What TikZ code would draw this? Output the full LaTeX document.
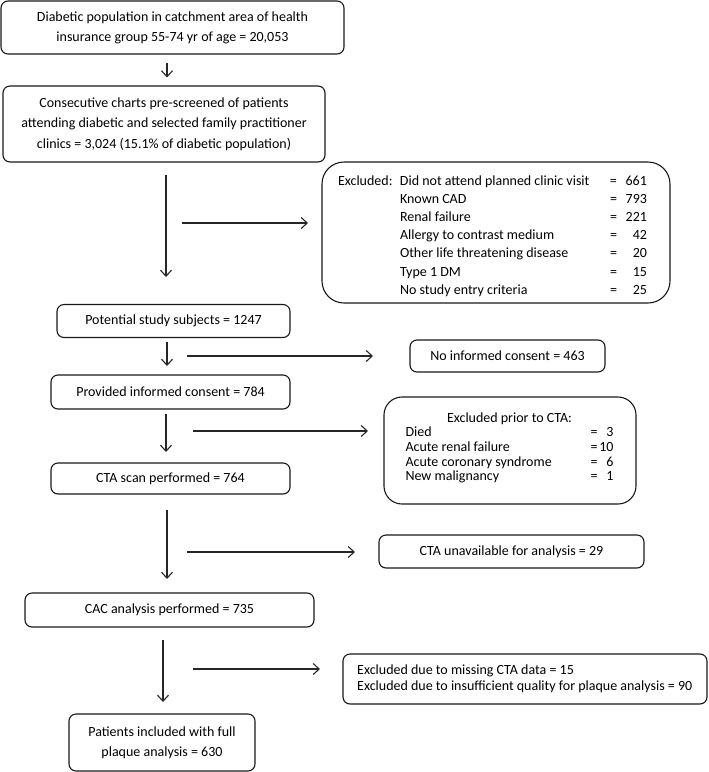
\documentclass[tikz,border=0pt]{standalone}
\usepackage{fontspec}
\setmainfont{Carlito}
\usetikzlibrary{arrows.meta}
\begin{document}
\begin{tikzpicture}[x=1pt,y=-1pt,
  box/.style={draw=black!90, line width=1.1pt, rounded corners=7pt, align=center, inner sep=0pt, font=\fontsize{14}{20}\selectfont},
  bigbox/.style={draw=black!90, line width=1.1pt, rounded corners=20pt, inner sep=0pt},
  txt/.style={inner sep=0pt},
  arr/.style={draw=black!85, line width=1.1pt, -{Straight Barb[length=6pt,width=11pt,line width=1.1pt]}}]
\useasboundingbox (0,0) rectangle (709,772);

% main column
\node[box, minimum width=343pt, minimum height=53pt] (b1) at (172.5,27.5)
  {Diabetic population in catchment area of health\\insurance group 55-74 yr of age = 20,053};
\node[box, minimum width=322pt, minimum height=76pt, font=\fontsize{14}{20.5}\selectfont] (b2) at (164,124)
  {Consecutive charts pre-screened of patients\\attending diabetic and selected family practitioner\\clinics = 3,024 (15.1\% of diabetic population)};
\node[box, minimum width=233pt, minimum height=33pt] (b3) at (173.5,321) {Potential study subjects = 1247};
\node[box, minimum width=239pt, minimum height=34pt] (b4) at (170.5,392) {Provided informed consent = 784};
\node[box, minimum width=239pt, minimum height=31pt] (b5) at (170.5,478.5) {CTA scan performed = 764};
\node[box, minimum width=289pt, minimum height=34pt] (b6) at (169.5,610) {CAC analysis performed = 735};
\node[box, minimum width=186pt, minimum height=57pt] (b7) at (162,742.5)
  {Patients included with full\\plaque analysis = 630};

% exclusion boxes
\node[bigbox, rounded corners=22pt, minimum width=348pt, minimum height=141pt] (ex1) at (496,232.5) {};
\node[txt, font=\fontsize{14}{18.2}\selectfont] (ex1t) at (492.5,236) {%
  \begin{tabular}{@{}p{62pt}@{}p{210pt}@{}l@{}r@{}}
  Excluded: & Did not attend planned clinic visit & = & \makebox[30pt][r]{661}\\
   & Known CAD & = & \makebox[30pt][r]{793}\\
   & Renal failure & = & \makebox[30pt][r]{221}\\
   & Allergy to contrast medium & = & \makebox[30pt][r]{42}\\
   & Other life threatening disease & = & \makebox[30pt][r]{20}\\
   & Type 1 DM & = & \makebox[30pt][r]{15}\\
   & No study entry criteria & = & \makebox[30pt][r]{25}
  \end{tabular}};

\node[box, minimum width=195pt, minimum height=32pt] (ex2) at (507.5,356) {No informed consent = 463};

\node[bigbox, rounded corners=18pt, minimum width=252pt, minimum height=107pt] (ex3) at (510,450.5) {};
\node[txt, font=\fontsize{14}{14.6}\selectfont] (ex3t) at (509.5,448.5) {%
  \begin{tabular}{@{}p{185pt}@{}l@{}r@{}}
  \multicolumn{3}{@{}c@{}}{Excluded prior to CTA:}\\
  Died & = & \makebox[16pt][r]{3}\\
  Acute renal failure & = & \makebox[16pt][r]{10}\\
  Acute coronary syndrome & = & \makebox[16pt][r]{6}\\
  New malignancy & = & \makebox[16pt][r]{1}
  \end{tabular}};

\node[box, minimum width=265pt, minimum height=33pt] (ex4) at (511.5,551.5) {CTA unavailable for analysis = 29};
\node[bigbox, rounded corners=7pt, minimum width=364pt, minimum height=50pt] (ex5) at (525,679) {};
\node[txt, anchor=west, align=left, font=\fontsize{14}{16}\selectfont] (ex5t) at (357,679)
  {Excluded due to missing CTA data = 15\\Excluded due to insufficient quality for plaque analysis = 90};

% arrow end points
\coordinate (a1s) at (167,63);  \coordinate (a1e) at (167,77.5);
\coordinate (a2s) at (166,175); \coordinate (a2e) at (166,277);
\coordinate (h2s) at (182,223); \coordinate (h2e) at (308,223);
\coordinate (a3s) at (167,342); \coordinate (a3e) at (167,366);
\coordinate (h3s) at (187,356); \coordinate (h3e) at (373,356);
\coordinate (a4s) at (166,414); \coordinate (a4e) at (166,452);
\coordinate (h4s) at (193,431); \coordinate (h4e) at (368,431);
\coordinate (a5s) at (167,510); \coordinate (a5e) at (167,579);
\coordinate (h5s) at (187,552); \coordinate (h5e) at (355,552);
\coordinate (a6s) at (163,640); \coordinate (a6e) at (163,702);
\coordinate (h6s) at (193,669); \coordinate (h6e) at (320,669);

\draw[arr] (a1s) -- (a1e);
\draw[arr] (a2s) -- (a2e);
\draw[arr] (h2s) -- (h2e);
\draw[arr] (a3s) -- (a3e);
\draw[arr] (h3s) -- (h3e);
\draw[arr] (a4s) -- (a4e);
\draw[arr] (h4s) -- (h4e);
\draw[arr] (a5s) -- (a5e);
\draw[arr] (h5s) -- (h5e);
\draw[arr] (a6s) -- (a6e);
\draw[arr] (h6s) -- (h6e);
\end{tikzpicture}
\end{document}
